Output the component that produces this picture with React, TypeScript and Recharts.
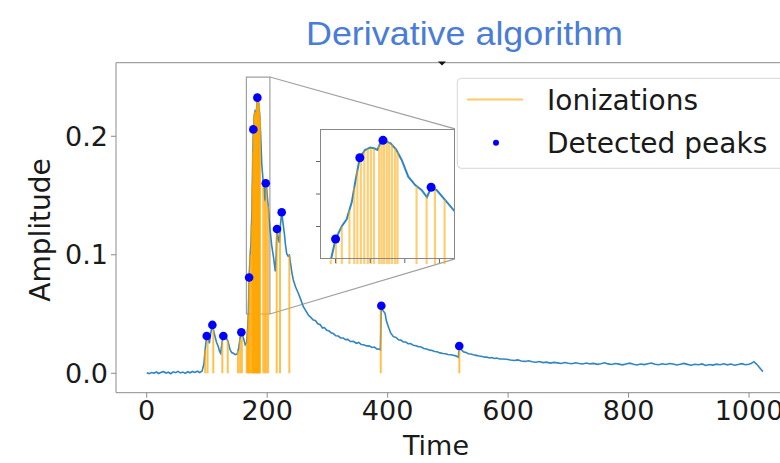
import React from 'react';
import {
  ComposedChart,
  Line,
  Scatter,
  ErrorBar,
  XAxis,
  YAxis,
  ReferenceLine,
  ReferenceArea,
} from 'recharts';

// signal trace (time, amplitude)
const signalT = [
  0, 4, 8, 12, 16, 20, 24, 28, 32, 36, 40, 44, 48, 52, 56, 60, 64, 68, 72, 76, 80, 84, 88, 92,
  95, 97, 99.6, 102, 104, 106, 109, 111, 113.4, 116, 118.9, 121, 122.8, 125, 127.2, 130, 132.8,
  135, 138.3, 141, 143.8, 147, 150.4, 153, 155, 157.1, 159, 161.5, 163.5, 166, 167.5, 168.7,
  170, 171.8, 173.2, 174.7, 175.7, 177, 178.5, 180, 181.1, 182.1, 182.9, 183.7, 185.9, 187.5,
  189.1, 191, 193, 194.9, 196.4, 197.6, 199.2, 202.1, 204.5, 207.5, 210.5, 213.5, 215, 216.3,
  218, 220.2, 222, 224.1, 226, 228.5, 230.5, 232.4, 234.5, 236.8, 239, 241, 243.4, 247, 251.7,
  255, 260, 264, 268.3, 272, 276.6, 280, 284, 287.7, 292, 295, 298.9, 303, 306, 309.8, 314,
  318, 322, 326.4, 330, 334, 338, 343, 348, 352, 356, 360, 365.3, 370, 374, 378, 382, 386.2,
  388, 389.5, 392, 395.7, 398, 401.2, 405, 409.5, 414, 418, 422, 426, 430, 434, 438, 442.6,
  447, 451, 455, 460, 464.9, 470, 474, 478, 482, 487, 492, 496, 500, 505, 509, 513, 517.4,
  518.9, 522, 525.7, 530, 534, 538, 542.3, 547, 552, 557, 561, 564.5, 569, 573, 577, 581, 586,
  591, 597.7, 604, 610, 616, 622, 628, 634, 640, 646, 652, 658, 664, 670, 676, 682, 688, 694,
  700, 706, 712, 718, 724, 730, 736, 742, 748, 754, 760, 766, 772, 778, 784, 790, 796, 802,
  808, 814, 820, 826, 832, 838, 844, 850, 856, 862, 868, 874, 880, 886, 892, 898, 904, 910,
  916, 922, 928, 934, 940, 946, 952, 958, 964, 970, 976, 982, 988, 994, 1000, 1004, 1008, 1012,
  1016, 1020, 1023,
];
const signalV = [
  0.0004, -0.0003, 0.0006, 0.0001, 0.0011, -0.0002, 0.0008, 0.0014, 0.0002, 0.0009, -0.0004,
  0.0012, 0.0005, 0.0016, 0.0003, 0.001, -0.0001, 0.0013, 0.0004, 0.0015, 0.0007, 0.0017,
  0.0006, 0.002,
  0.008, 0.02, 0.0315, 0.029, 0.0253, 0.033, 0.0408, 0.036, 0.031, 0.026, 0.0224, 0.0185,
  0.0169, 0.026, 0.0315, 0.03, 0.029, 0.027, 0.02, 0.0175, 0.0169, 0.0158, 0.0163, 0.022,
  0.03, 0.0346, 0.032, 0.028, 0.024, 0.026, 0.037, 0.05,
  0.0808, 0.1005, 0.111, 0.138, 0.169, 0.2058, 0.2177, 0.2213, 0.2203, 0.2177, 0.228, 0.2326,
  0.228, 0.2185, 0.2023, 0.1766, 0.1638, 0.156, 0.145, 0.1603, 0.156, 0.138, 0.1228, 0.108,
  0.098, 0.086, 0.1, 0.1218, 0.115, 0.11, 0.125, 0.1359, 0.128, 0.118, 0.108, 0.101, 0.099,
  0.0998, 0.092, 0.085, 0.0787, 0.073, 0.0675, 0.0632, 0.0562, 0.0528, 0.0492, 0.0474, 0.045,
  0.0445, 0.0418, 0.0412, 0.0382, 0.0386, 0.0362, 0.0356, 0.0341, 0.0335, 0.0316, 0.0314,
  0.0298, 0.0297, 0.0284, 0.0286, 0.0268, 0.0269, 0.0253, 0.026, 0.0243, 0.0241, 0.0231,
  0.0229, 0.0218, 0.0221, 0.0206, 0.0204, 0.0198,
  0.057, 0.053, 0.0506, 0.044, 0.0393, 0.034, 0.0309, 0.0302, 0.0283, 0.028, 0.0265, 0.0264,
  0.0249, 0.025, 0.0237, 0.0233, 0.0225, 0.0224, 0.0209, 0.0205, 0.0195, 0.0192, 0.0183,
  0.0182, 0.0172, 0.0167, 0.0165, 0.0158, 0.0156, 0.0152, 0.0147, 0.0135,
  0.023, 0.02, 0.0182, 0.0176, 0.0165, 0.0162, 0.0156, 0.0151, 0.0145, 0.0141, 0.0136, 0.0136,
  0.0129, 0.0133, 0.0125, 0.0128, 0.0121, 0.0121, 0.0118, 0.0112, 0.0108, 0.0113, 0.0104,
  0.01, 0.0106, 0.0097, 0.0093, 0.0099, 0.009, 0.0094, 0.0086, 0.0092, 0.0088, 0.0083, 0.0091,
  0.0085, 0.008, 0.0089, 0.0082, 0.0078, 0.0086, 0.0079, 0.0083, 0.0075, 0.0081, 0.0088,
  0.0079, 0.0074, 0.0082, 0.0077, 0.0071, 0.0079, 0.0085, 0.0076, 0.007, 0.0078, 0.0073,
  0.008, 0.0087, 0.0076, 0.0072, 0.008, 0.0074, 0.0082, 0.0078, 0.007, 0.0076, 0.0083, 0.0075,
  0.0068, 0.0076, 0.0072, 0.0079, 0.0066, 0.0074, 0.0069, 0.0077, 0.0072, 0.008, 0.0071,
  0.0078, 0.0068, 0.0074, 0.0081, 0.0072, 0.0076, 0.0084, 0.0098, 0.008, 0.0058, 0.0032,
  0.0014,
];

// detected peaks
const peakT = [99.6, 109, 127.2, 157.1, 170, 177, 183.7, 197.6, 216.3, 224.1, 389.5, 518.9];
const peakV = [0.0315, 0.0408, 0.0315, 0.0346, 0.0808, 0.2058, 0.2326, 0.1603, 0.1218, 0.1359, 0.057, 0.023];

// ionizations (time, height)
const ionT = [
  97, 101, 110.5, 125.5, 134.5, 151.5, 155, 158, 166, 167.5, 168.6, 170.1, 171.8, 174, 175.4,
  176.3, 177.3, 178.3, 179.3, 180.2, 181.1, 182.6, 183.3, 184, 184.8, 185.5, 186.3, 187.2,
  187.9, 193.4, 196.3, 198.7, 201.5, 215.8, 221.3, 236.8, 388.5, 519,
];
const ionH = [
  0.02, 0.03, 0.038, 0.027, 0.028, 0.019, 0.029, 0.033, 0.026, 0.037, 0.049, 0.081, 0.1,
  0.125, 0.16, 0.187, 0.208, 0.216, 0.22, 0.221, 0.22, 0.224, 0.23, 0.232, 0.23, 0.229, 0.226,
  0.22, 0.214, 0.162, 0.146, 0.157, 0.141, 0.118, 0.118, 0.0998, 0.055, 0.022,
];

const xTicks = [0, 200, 400, 600, 800, 1000];
const yTicks = [0, 0.1, 0.2];
const insetXTicks = [170, 180, 190, 200];
const insetYTicks = [0.1, 0.15, 0.2];
const insetX = [165.5, 204.5];
const insetY = [0.05, 0.25];
// inset corners in main data coordinates (for the connector lines)
const insetCornerT = 511.9;
const insetCornerV = [0.2062, 0.0965];

const signal = signalT.map((t, i) => ({ t, v: signalV[i] }));
const peaks = peakT.map((t, i) => ({ t, v: peakV[i] }));
// each ionization is a vertical stick from 0 to its height: midpoint +/- half height
const ions = ionT.map((t, i) => ({ t, m: ionH[i] / 2, e: ionH[i] / 2 }));

const LINE = '#2f86c3';
const ORANGE = '#ffa500';
const FONT = "'DejaVu Sans', sans-serif";

const dot = (r: number) => (p: any) => <circle cx={p.cx} cy={p.cy} r={r} fill="#0000ff" />;
const noShape = () => <g />;

const App: React.FC = () => {
  return (
    <div style={{ position: 'absolute', left: 0, top: 0, width: 780, height: 463, overflow: 'hidden', background: '#fff', fontFamily: FONT }}>
      <ComposedChart width={800} height={463} data={signal} margin={{ top: 62.7, right: 6.4, bottom: 0, left: 0 }}>
        <XAxis
          dataKey="t"
          type="number"
          domain={[-51, 1074]}
          ticks={xTicks}
          allowDataOverflow
          height={70.3}
          tickSize={5}
          tickMargin={3}
          stroke="#8c8c8c"
          tick={{ fontSize: 27, fill: '#1a1a1a', fontFamily: FONT }}
        />
        <YAxis
          type="number"
          domain={[-0.0164, 0.2621]}
          ticks={yTicks}
          allowDataOverflow
          width={116}
          tickSize={5}
          tickMargin={3}
          stroke="#8c8c8c"
          tickFormatter={(v: number) => v.toFixed(1)}
          tick={{ fontSize: 27, fill: '#1a1a1a', fontFamily: FONT }}
        />
        <ReferenceArea x1={insetX[0]} x2={insetX[1]} y1={insetY[0]} y2={insetY[1]} fill="none" stroke="#a0a0a0" strokeWidth={1.2} ifOverflow="visible" />
        {insetCornerV.map((v, i) => (
          <ReferenceLine
            key={'c' + i}
            segment={[{ x: insetX[1], y: insetY[1 - i] }, { x: insetCornerT, y: v }]}
            stroke="#a0a0a0"
            strokeWidth={1.2}
            ifOverflow="visible"
          />
        ))}
        <Line dataKey="v" type="linear" stroke={LINE} strokeWidth={1.6} dot={false} isAnimationActive={false} />
        <Scatter data={ions} dataKey="m" shape={noShape} isAnimationActive={false}>
          <ErrorBar dataKey="e" direction="y" width={0} stroke={ORANGE} strokeOpacity={0.7} strokeWidth={2} isAnimationActive={false} />
        </Scatter>
        <Scatter data={peaks} dataKey="v" shape={dot(4.3)} isAnimationActive={false} />
      </ComposedChart>

      {/* inset */}
      <div style={{ position: 'absolute', left: 315, top: 124, width: 145, height: 140 }}>
        <div style={{ position: 'absolute', left: 5, top: 5, width: 135, height: 130, background: '#fff' }} />
        <div style={{ position: 'absolute', left: 0, top: 0 }}>
          <ComposedChart width={145} height={140} data={signal} margin={{ top: 5, right: 5, bottom: 0, left: 0 }}>
            <XAxis
              dataKey="t"
              type="number"
              domain={insetX}
              ticks={insetXTicks}
              allowDataOverflow
              height={5}
              tickSize={4}
              axisLine={false}
              stroke="#666"
              tickFormatter={() => ''}
            />
            <YAxis
              type="number"
              domain={insetY}
              ticks={insetYTicks}
              allowDataOverflow
              width={5}
              tickSize={4}
              axisLine={false}
              stroke="#666"
              tickFormatter={() => ''}
            />
            <Line dataKey="v" type="linear" stroke={LINE} strokeWidth={2} dot={false} isAnimationActive={false} />
            <Scatter data={ions} dataKey="m" shape={noShape} isAnimationActive={false}>
              <ErrorBar dataKey="e" direction="y" width={0} stroke={ORANGE} strokeOpacity={0.55} strokeWidth={2.2} isAnimationActive={false} />
            </Scatter>
            <Scatter data={peaks} dataKey="v" shape={dot(4.5)} isAnimationActive={false} />
          </ComposedChart>
        </div>
        <div style={{ position: 'absolute', left: 5, top: 5, width: 135, height: 130, border: '1px solid #888', boxSizing: 'border-box', pointerEvents: 'none' }} />
      </div>

      {/* title, axis labels, top spine, legend */}
      <svg width={780} height={463} style={{ position: 'absolute', left: 0, top: 0, pointerEvents: 'none' }}>
        <line x1={116} y1={62.7} x2={780} y2={62.7} stroke="#8c8c8c" strokeWidth={1} />
        <path d="M438,61.5 L446,61.5 L442,65.5 Z" fill="#111" />
        <text x={306} y={45} textLength={317} lengthAdjust="spacingAndGlyphs" fontSize={33} fill="#4a7dd6" fontFamily="'Liberation Sans', Arial, sans-serif">
          Derivative algorithm
        </text>
        <text x={436} y={455} textAnchor="middle" fontSize={27} fill="#1a1a1a" fontFamily={FONT}>
          Time
        </text>
        <text x={0} y={0} transform="translate(50,230) rotate(-90)" textAnchor="middle" fontSize={28} fill="#1a1a1a" fontFamily={FONT}>
          Amplitude
        </text>
        <rect x={457.3} y={78.3} width={340} height={90} rx={4} fill="#fff" fillOpacity={0.8} stroke="#d6d6d6" />
        <line x1={467} y1={99.5} x2={523} y2={99.5} stroke={ORANGE} strokeOpacity={0.6} strokeWidth={2} />
        <text x={547} y={110} fontSize={28} fill="#1a1a1a" fontFamily={FONT}>
          Ionizations
        </text>
        <circle cx={496} cy={142.7} r={3} fill="#0000ff" />
        <text x={547} y={152.7} fontSize={28} fill="#1a1a1a" fontFamily={FONT}>
          Detected peaks
        </text>
      </svg>
    </div>
  );
};

export default App;
